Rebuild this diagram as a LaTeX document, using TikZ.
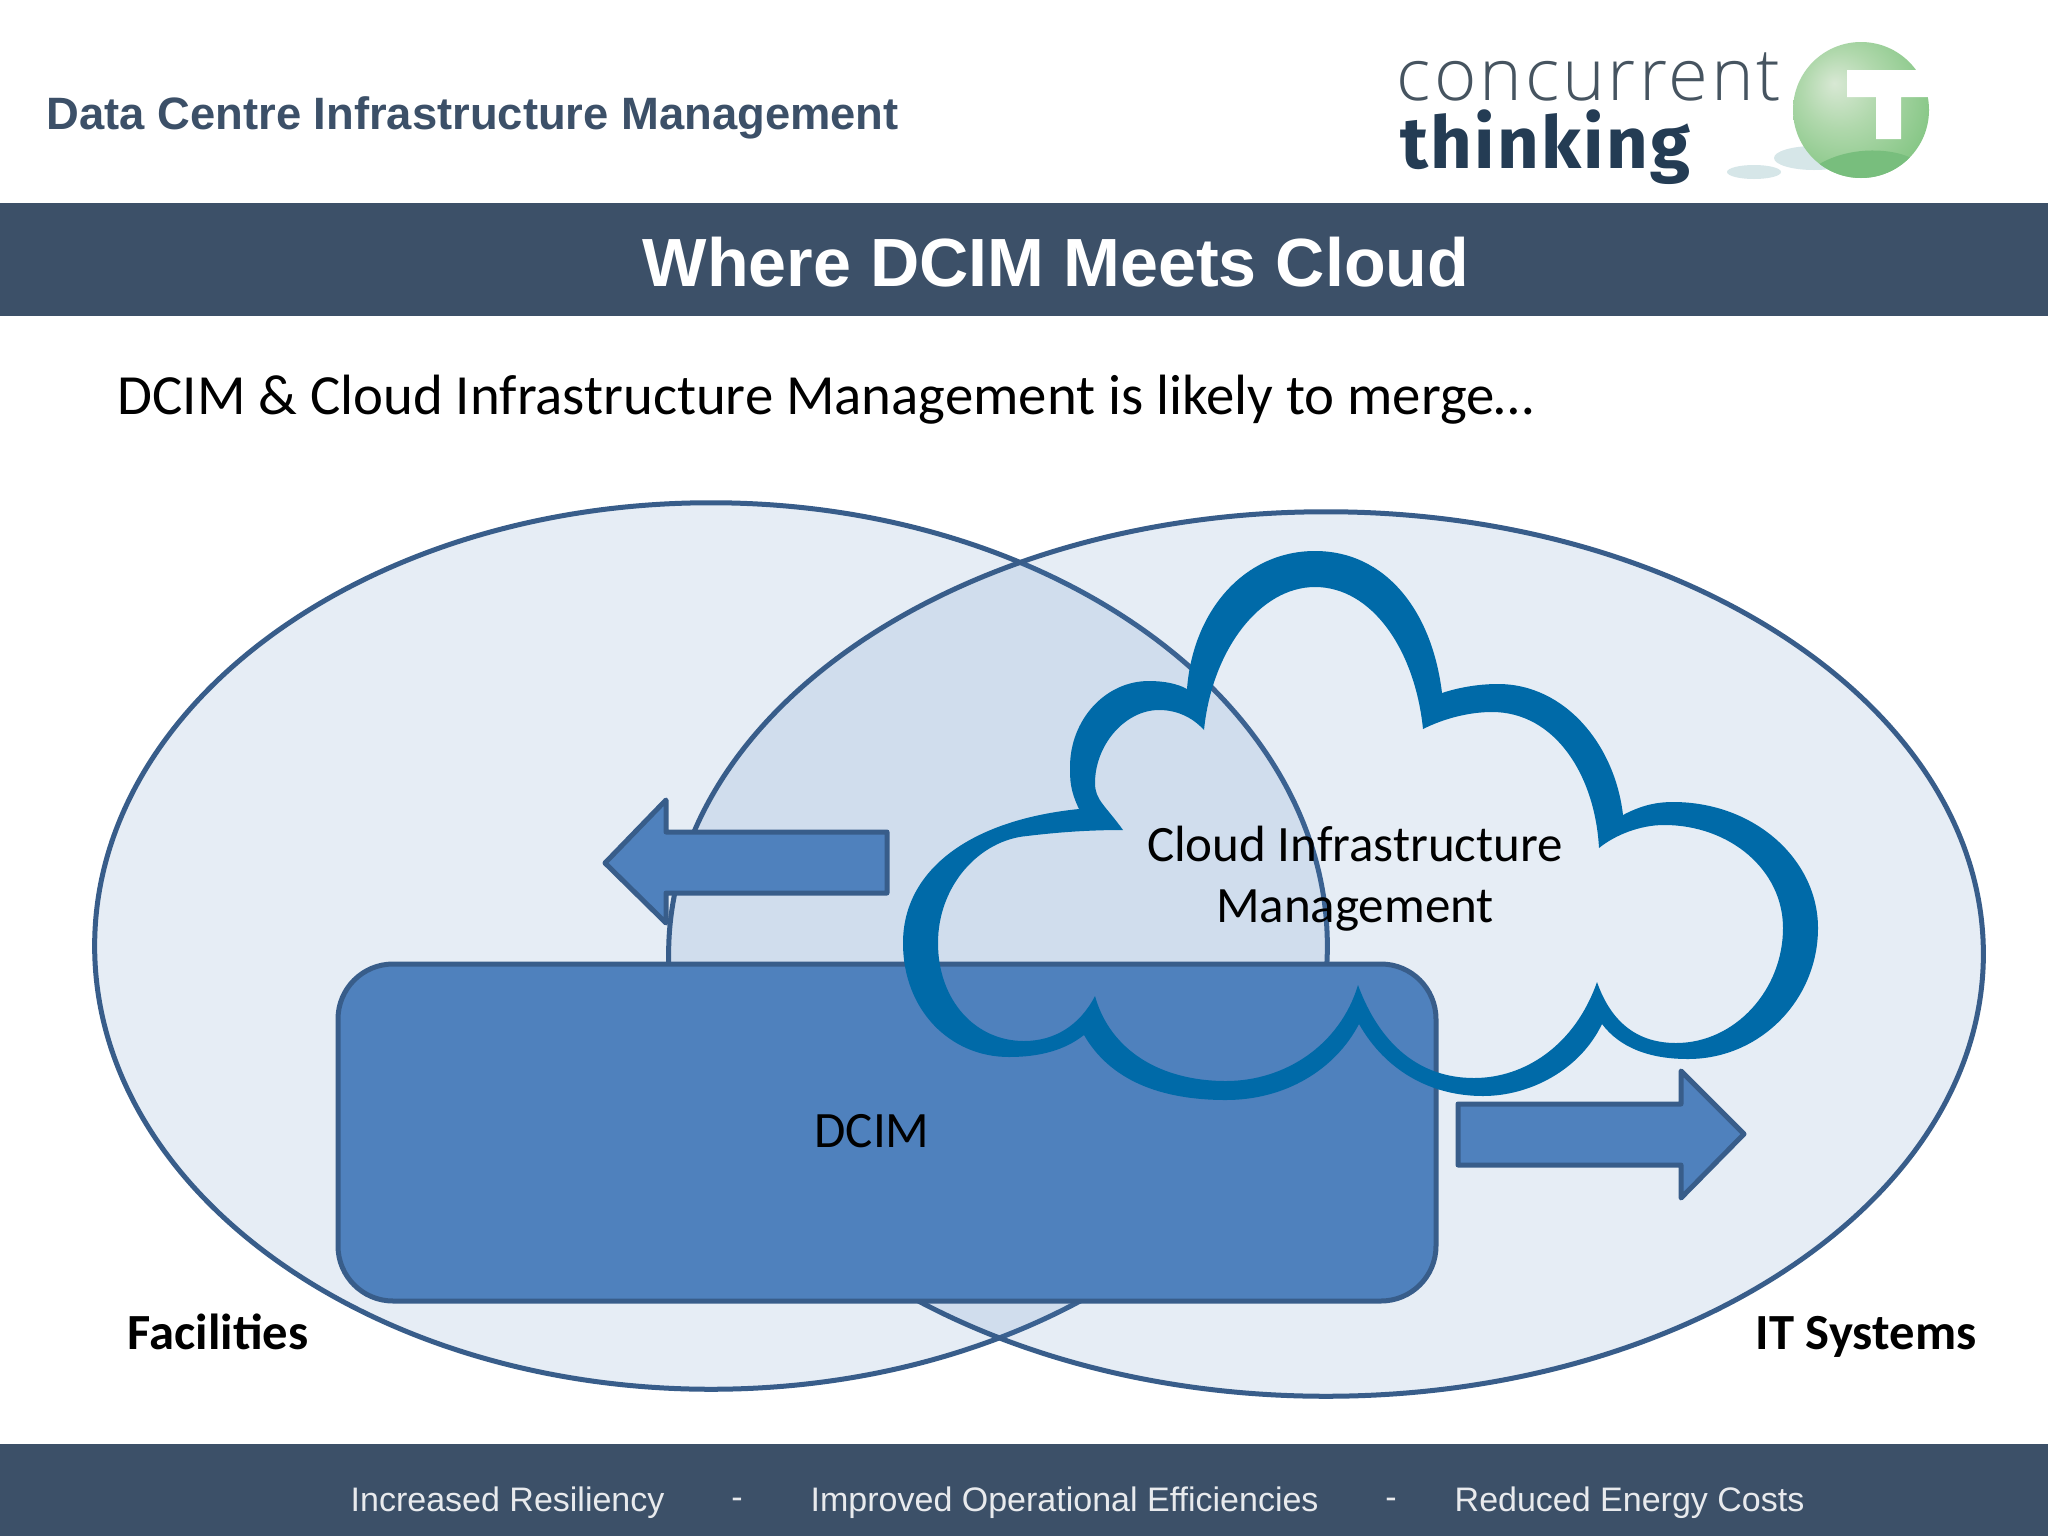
\documentclass[tikz,border=0pt]{standalone}
\usepackage{fontspec}
\usetikzlibrary{shapes.geometric,positioning}
\setmainfont{Carlito}
\newfontfamily\arialfont{Liberation Sans}
\newfontfamily\logolight[LetterSpace=4]{Open Sans Light}
\newfontfamily\logobold[LetterSpace=3]{Fira Sans}
\definecolor{bandblue}{RGB}{60,80,104}
\definecolor{vennfill}{RGB}{79,129,189}
\definecolor{vennline}{RGB}{56,93,138}
\definecolor{cloudblue}{RGB}{0,106,168}
\definecolor{logodark}{RGB}{36,60,84}
\definecolor{logogrey}{RGB}{70,84,96}
\definecolor{ballhigh}{RGB}{216,232,212}
\definecolor{ballmid}{RGB}{176,216,172}
\definecolor{balllow}{RGB}{128,196,128}
\definecolor{ballrim}{RGB}{116,186,118}
\definecolor{ballshade}{RGB}{120,190,125}
\definecolor{logoshadow}{RGB}{214,230,232}
\pgfdeclareradialshading{logoball}{\pgfpoint{-0.35cm}{0.35cm}}{%
  color(0cm)=(ballhigh);
  color(0.5cm)=(ballmid);
  color(1.2cm)=(balllow);
  color(2cm)=(ballrim)}
\begin{document}
\begin{tikzpicture}[x=0.01cm, y=-0.01cm,
    venn/.style={ellipse, draw=vennline, line width=0.05cm, fill=vennfill, fill opacity=0.14, inner sep=0pt, outer sep=0pt},
    flow/.style={draw=vennline, line width=0.05cm, fill=vennfill, line join=round},
    bodytext/.style={font=\fontsize{14.5}{17.3}\selectfont, align=center, text=black, inner sep=0pt},
    sidetext/.style={font=\fontsize{14.4}{17}\selectfont\bfseries, text=black, inner sep=0pt},
    foottext/.style={font=\arialfont\fontsize{9.67}{12}\selectfont, text=white!88!bandblue, inner sep=0pt}
]
\useasboundingbox (0,0) rectangle (2048,1536);
\fill[white] (0,0) rectangle (2048,1536);

% Bands
\fill[bandblue] (0,203) rectangle (2048,316);
\fill[bandblue] (0,1444) rectangle (2048,1536);

% Header texts
\node[anchor=west, inner sep=0pt, text=bandblue, font=\arialfont\bfseries\fontsize{12.9}{15}\selectfont] (product) at (46,118) {Data Centre Infrastructure Management};
\node[inner sep=0pt, text=white, font=\arialfont\bfseries\fontsize{19.4}{25}\selectfont] (title) at (1056,262) {Where DCIM Meets Cloud};
\node[anchor=west, inner sep=0pt, text=black, font=\fontsize{16.15}{18}\selectfont] (intro) at (117,400) {DCIM \& Cloud Infrastructure Management is likely to merge…};

% Logo
\fill[logoshadow] (1754,172) ellipse [x radius=27, y radius=7];
\fill[logoshadow] (1814,158) ellipse [x radius=40, y radius=12];
\shade[shading=logoball] (1861,110) circle [radius=68];
\begin{scope}
  \clip (1861,110) circle [radius=68];
  \fill[ballshade] (1800,180) .. controls (1830,145) and (1890,145) .. (1915,160) -- (1915,190) -- cycle;
\end{scope}
\fill[white] (1847,70) -- (1935,70) -- (1935,97) -- (1901,97) -- (1901,139) -- (1876,139) -- (1876,97) -- (1847,97) -- cycle;
\node[anchor=base west, inner sep=0pt, text=logogrey, font=\logolight\fontsize{20.6}{26}\selectfont] (logotop) at (1396,100) {concurrent};
\node[anchor=base west, inner sep=0pt, text=logodark, font=\logobold\bfseries\fontsize{20.6}{26}\selectfont] (logobottom) at (1400,168) {thinking};

% Venn ellipses
\node[venn, minimum width=12.32cm, minimum height=8.86cm] (facilities) at (711,946) {};
\node[venn, minimum width=13.14cm, minimum height=8.84cm] (itsystems) at (1326,954) {};

% DCIM block
\draw[flow, rounded corners=0.55cm] (338,964) rectangle (1436,1301);
\node[bodytext] (dcim) at (872,1131) {DCIM};

% Arrows
\draw[flow] (605,863) -- (666,800) -- (666,832) -- (887,832) -- (887,893) -- (666,893) -- (666,923) -- cycle;
\draw[flow] (1458,1104) -- (1681,1104) -- (1681,1071) -- (1744,1134) -- (1681,1198) -- (1681,1165) -- (1458,1165) -- cycle;

% Cloud
\fill[cloudblue, even odd rule]
  (1187,689) .. controls (1193,610) and (1245,551) .. (1315,551)
  .. controls (1385,551) and (1432,610) .. (1442,693)
  .. controls (1460,687) and (1480,684) .. (1498,684)
  .. controls (1565,684) and (1615,745) .. (1623,815)
  .. controls (1640,806) and (1655,802) .. (1673,802)
  .. controls (1755,802) and (1818,860) .. (1818,928)
  .. controls (1818,1000) and (1760,1059) .. (1688,1059)
  .. controls (1650,1059) and (1620,1048) .. (1602,1024)
  .. controls (1580,1070) and (1530,1096) .. (1483,1096)
  .. controls (1430,1096) and (1385,1070) .. (1359,1024)
  .. controls (1335,1070) and (1285,1100) .. (1226,1100)
  .. controls (1160,1100) and (1110,1080) .. (1084,1035)
  .. controls (1065,1050) and (1040,1057) .. (1009,1057)
  .. controls (950,1057) and (903,1010) .. (903,943)
  .. controls (903,870) and (970,820) .. (1079,809)
  .. controls (1070,790) and (1070,780) .. (1070,767)
  .. controls (1070,720) and (1105,681) .. (1149,681)
  .. controls (1165,681) and (1178,684) .. (1187,689) -- cycle
  (1204,730) .. controls (1212,650) and (1260,587) .. (1315,587)
  .. controls (1372,587) and (1415,650) .. (1423,729)
  .. controls (1445,718) and (1470,712) .. (1492,712)
  .. controls (1555,712) and (1595,775) .. (1599,848)
  .. controls (1615,835) and (1640,825) .. (1664,825)
  .. controls (1730,825) and (1783,870) .. (1783,928)
  .. controls (1783,990) and (1735,1043) .. (1676,1043)
  .. controls (1640,1043) and (1612,1025) .. (1597,982)
  .. controls (1575,1045) and (1525,1078) .. (1474,1078)
  .. controls (1420,1078) and (1380,1045) .. (1358,985)
  .. controls (1340,1045) and (1285,1081) .. (1226,1081)
  .. controls (1160,1081) and (1110,1050) .. (1095,996)
  .. controls (1080,1025) and (1055,1041) .. (1024,1041)
  .. controls (975,1041) and (938,1000) .. (938,943)
  .. controls (938,885) and (980,840) .. (1027,836)
  .. controls (1060,832) and (1090,830) .. (1123,830)
  .. controls (1105,805) and (1095,800) .. (1095,783)
  .. controls (1095,745) and (1125,710) .. (1159,710)
  .. controls (1180,710) and (1195,720) .. (1204,730) -- cycle;
\node[bodytext] (cloudlabel) at (1355,879) {Cloud Infrastructure\\Management};

% Side labels
\node[sidetext, anchor=base west] (faclabel) at (127,1349) {Facilities};
\node[sidetext, anchor=base east] (itlabel) at (1977,1349) {IT Systems};

% Footer
\node[foottext, anchor=west] (resiliency) at (350,1503) {Increased Resiliency};
\node[foottext] (dashone) at (737,1503) {-};
\node[foottext, anchor=west] (efficiency) at (810,1503) {Improved Operational Efficiencies};
\node[foottext] (dashtwo) at (1391,1503) {-};
\node[foottext, anchor=west] (energy) at (1454,1503) {Reduced Energy Costs};

\end{tikzpicture}
\end{document}
